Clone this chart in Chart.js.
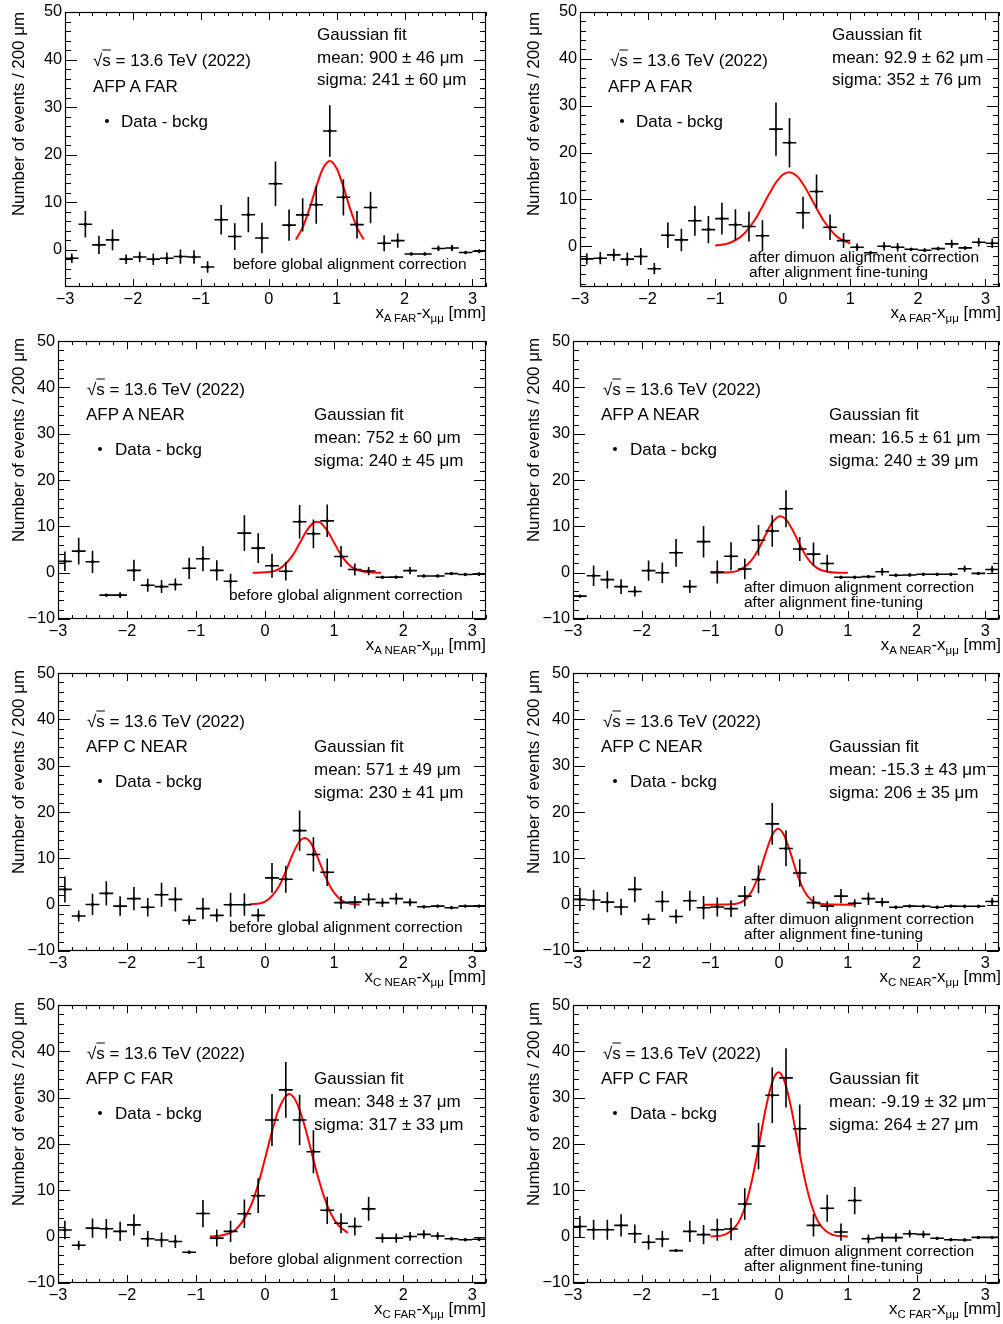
<!DOCTYPE html>
<html>
<head>
<meta charset="utf-8">
<script src="https://cdn.jsdelivr.net/npm/chart.js@4.4.0/dist/chart.umd.min.js"></script>
<style>
body { margin: 0; background: #fff; width: 1003px; height: 1324px; position: relative; overflow: hidden;
       font-family: "Liberation Sans", Arial, Helvetica, sans-serif; color: #000; }
canvas { position: absolute; }
.t { position: absolute; white-space: nowrap; font-size: 17px; line-height: 1; transform: translateY(-50%); }
.n { font-size: 15.5px; }
.dot { position: absolute; width: 4px; height: 4px; margin: -2px 0 0 -2px; border-radius: 50%; background: #000; }
.yt { position: absolute; width: 300px; text-align: right; font-size: 16.9px; line-height: 1; white-space: nowrap;
      transform-origin: 0 0; transform: rotate(-90deg); }
.xt { position: absolute; font-size: 16.9px; line-height: 1; white-space: nowrap; text-align: right; }
.xt sub { font-size: 11.5px; vertical-align: -4px; }
.ov { text-decoration: overline; }
</style>
</head>
<body>
<script>
// Centres des bins (largeur 200 µm)
const binX = [-2.9, -2.7, -2.5, -2.3, -2.1, -1.9, -1.7, -1.5, -1.3, -1.1, -0.9, -0.7, -0.5, -0.3, -0.1,
              0.1, 0.3, 0.5, 0.7, 0.9, 1.1, 1.3, 1.5, 1.7, 1.9, 2.1, 2.3, 2.5, 2.7, 2.9, 3.1];
const binHalf = 0.1;
const xTicks = [-3, -2, -1, 0, 1, 2, 3];
const yTicksTop = [0, 10, 20, 30, 40, 50];
const yTicks = [-10, 0, 10, 20, 30, 40, 50];

// AFP A FAR
const aFarBeforeY   = [-1.75, 5.4, 1.05, 2.1, -1.95, -1.5, -1.95, -1.75, -1.4, -1.5, -3.6, 6.35, 2.8, 7.4, 2.5, 13.9, 5.2, 7.35, 9.5, 25.0, 11.05, 5.3, 8.9, 1.4, 1.95, -0.85, -0.85, 0.3, 0.4, -0.55, -0.3];
const aFarBeforeErr = [1.0, 2.8, 1.9, 2.2, 1.0, 1.1, 1.2, 1.2, 1.5, 1.4, 1.2, 3.1, 2.8, 3.7, 3.2, 4.7, 3.3, 3.5, 4.0, 5.4, 3.8, 2.9, 3.3, 1.7, 1.5, 0.3, 0.3, 0.6, 0.7, 0.3, 0.4];
const aFarBeforeFitX = [0.4, 0.5, 0.6, 0.7, 0.8, 0.9, 1.0, 1.1, 1.2, 1.3, 1.4];
const aFarBeforeFitY = [2.17, 4.72, 8.61, 13.25, 17.15, 18.7, 17.15, 13.25, 8.61, 4.72, 2.17];

const aFarAfterY   = [-2.7, -2.55, -1.85, -2.75, -2.2, -4.8, 2.35, 1.35, 5.45, 3.55, 5.9, 4.6, 4.2, 2.25, 25.0, 22.1, 7.15, 11.7, 4.05, 1.2, -0.2, -1.4, 0.0, -0.2, -0.65, -0.85, -0.5, 0.5, -0.35, 0.85, 0.65];
const aFarAfterErr = [1.2, 1.3, 1.3, 1.4, 1.8, 1.2, 2.7, 2.4, 3.2, 2.9, 3.4, 3.3, 3.2, 3.3, 5.7, 5.3, 3.4, 3.6, 2.7, 1.6, 0.8, 0.3, 0.9, 0.9, 0.3, 0.4, 0.4, 0.9, 0.4, 0.9, 1.0];
const aFarAfterFitX = [-1.0, -0.8, -0.6, -0.4, -0.2, -0.1, 0.0, 0.093, 0.2, 0.3, 0.4, 0.6, 0.8, 1.0];
const aFarAfterFitY = [0.13, 0.63, 2.27, 5.92, 11.18, 13.6, 15.26, 15.8, 15.09, 13.29, 10.8, 5.6, 2.1, 0.57];

// AFP A NEAR
const aNearBeforeY   = [2.45, 4.65, 2.35, -4.85, -4.85, 0.5, -2.7, -3.0, -2.55, 0.95, 3.0, 0.5, -1.85, 8.55, 5.3, 1.5, 0.3, 11.0, 8.4, 11.2, 3.5, 0.7, 0.35, -1.0, -0.95, 0.45, -0.7, -0.7, -0.2, -0.4, -0.3];
const aNearBeforeErr = [2.1, 2.9, 2.4, 0.3, 0.6, 2.3, 1.4, 1.4, 1.3, 2.3, 2.7, 2.2, 1.6, 3.85, 3.2, 2.6, 2.0, 3.6, 3.1, 3.5, 2.25, 1.3, 0.9, 0.3, 0.3, 0.8, 0.3, 0.3, 0.3, 0.3, 0.4];
const aNearBeforeFitX = [-0.18, 0.0, 0.2, 0.4, 0.5, 0.6, 0.7, 0.752, 0.8, 0.9, 1.0, 1.1, 1.2, 1.3, 1.5, 1.68];
const aNearBeforeFitY = [0.0, 0.08, 0.78, 3.75, 6.34, 9.0, 10.75, 11.0, 10.78, 9.1, 6.45, 3.85, 1.93, 0.81, 0.09, 0.0];

const aNearAfterY   = [-5.05, -0.65, -1.5, -3.0, -4.05, 0.45, 0.0, 4.3, -3.0, 6.7, 0.15, 3.55, 0.8, 7.0, 9.0, 13.8, 5.1, 4.0, 2.0, -1.0, -1.0, -0.85, 0.2, -0.55, -0.5, -0.35, -0.35, -0.35, 0.85, -0.15, 0.7];
const aNearAfterErr = [0.3, 2.2, 1.9, 1.6, 1.1, 2.2, 2.2, 3.0, 1.4, 3.4, 2.5, 3.0, 2.2, 3.3, 3.4, 4.0, 2.6, 2.5, 1.9, 0.3, 0.3, 0.3, 0.8, 0.3, 0.3, 0.3, 0.3, 0.3, 0.7, 0.3, 0.8];
const aNearAfterFitX = [-1.0, -0.8, -0.6, -0.4, -0.3, -0.2, -0.1, 0.0165, 0.1, 0.2, 0.3, 0.4, 0.5, 0.6, 0.8, 1.0];
const aNearAfterFitY = [0.0, 0.05, 0.45, 2.7, 5.1, 8.1, 10.85, 12.2, 11.5, 9.1, 6.07, 3.4, 1.6, 0.64, 0.06, 0.0];

// AFP C NEAR
const cNearBeforeY   = [3.3, -2.45, 0.05, 2.45, -0.3, 1.3, -0.55, 2.15, 1.15, -3.35, -0.85, -2.3, 0.0, 0.0, -2.3, 5.8, 5.5, 16.0, 10.85, 7.0, 0.45, 0.55, 1.15, 0.45, 1.3, 0.5, -0.45, -0.3, -0.65, -0.3, -0.3];
const cNearBeforeErr = [2.8, 1.2, 2.3, 2.6, 2.1, 2.5, 2.0, 2.6, 2.6, 1.0, 2.3, 1.4, 2.6, 2.4, 1.4, 3.2, 2.9, 4.35, 3.7, 2.95, 1.4, 1.35, 1.3, 0.95, 1.25, 0.85, 0.3, 0.3, 0.3, 0.3, 0.3];
const cNearBeforeFitX = [-0.23, 0.0, 0.2, 0.3, 0.4, 0.5, 0.571, 0.65, 0.75, 0.85, 0.95, 1.1, 1.25, 1.37];
const cNearBeforeFitY = [0.03, 0.66, 3.92, 7.2, 10.9, 13.7, 14.4, 13.6, 10.6, 6.9, 3.7, 1.02, 0.18, 0.03];

const cNearAfterY   = [1.15, 1.0, 0.55, -0.5, 3.3, -3.15, 0.7, -2.55, 0.85, -0.65, -0.5, -0.85, 1.85, 5.45, 17.45, 12.15, 6.85, 0.45, -0.3, 1.85, 0.3, 1.3, 0.55, -0.55, -0.3, -0.35, -0.55, -0.3, -0.35, -0.35, 0.7];
const cNearAfterErr = [2.5, 2.15, 2.2, 1.8, 2.75, 1.2, 2.25, 1.5, 2.15, 2.5, 2.05, 1.8, 2.2, 3.0, 4.5, 3.85, 2.95, 1.35, 1.05, 1.55, 0.9, 1.35, 0.95, 0.3, 0.3, 0.3, 0.3, 0.3, 0.3, 0.3, 0.8];
const cNearAfterFitX = [-1.1, -0.7, -0.5, -0.4, -0.3, -0.2, -0.1, -0.0153, 0.07, 0.17, 0.27, 0.37, 0.47, 0.67, 1.1];
const cNearAfterFitY = [0.0, 0.07, 1.03, 2.86, 6.3, 10.96, 15.06, 16.4, 15.06, 10.96, 6.3, 2.86, 1.03, 0.07, 0.0];

// AFP C FAR
const cFarBeforeY   = [1.45, -1.85, 1.85, 1.7, 1.15, 2.55, -0.45, -0.7, -1.05, -3.35, 5.0, -0.3, 1.15, 4.95, 8.85, 25.2, 31.7, 25.2, 18.35, 5.7, 2.9, 2.2, 6.0, -0.3, -0.3, 0.05, 0.5, 0.15, -0.45, -0.65, -0.55];
const cFarBeforeErr = [2.0, 1.0, 2.1, 2.1, 2.1, 2.3, 1.7, 1.6, 1.4, 0.3, 2.95, 1.8, 2.3, 3.1, 3.75, 5.6, 6.0, 5.45, 4.65, 2.95, 2.15, 1.95, 2.55, 1.0, 1.0, 0.95, 0.95, 0.8, 0.3, 0.3, 0.3];
const cFarBeforeFitX = [-0.8, -0.6, -0.4, -0.2, -0.1, 0.0, 0.1, 0.2, 0.348, 0.45, 0.55, 0.65, 0.75, 0.85, 0.95, 1.05, 1.2];
const cFarBeforeFitY = [0.04, 0.35, 1.9, 6.9, 11.3, 16.9, 22.7, 27.6, 30.8, 29.2, 25.1, 19.6, 13.8, 8.8, 5.07, 2.65, 0.83];

const cFarAfterY   = [2.2, 1.5, 1.5, 2.45, 0.65, -1.2, -0.5, -3.0, 1.15, 0.45, 1.5, 1.65, 7.05, 19.55, 30.55, 34.3, 23.3, 2.45, 6.15, 1.0, 7.8, -0.45, -0.2, -0.2, 0.65, 0.5, -0.35, -0.65, -0.7, -0.15, -0.15];
const cFarAfterErr = [2.25, 2.15, 2.15, 2.4, 2.0, 1.55, 1.8, 0.3, 2.3, 2.1, 2.4, 2.4, 3.4, 5.0, 6.0, 6.4, 5.25, 2.4, 2.9, 1.85, 2.95, 0.95, 0.95, 0.95, 0.8, 0.8, 0.3, 0.3, 0.3, 0.3, 0.3];
const cFarAfterFitX = [-1.0, -0.8, -0.6, -0.5, -0.4, -0.3, -0.2, -0.1, -0.009, 0.08, 0.18, 0.28, 0.38, 0.48, 0.58, 0.78, 1.0];
const cFarAfterFitY = [0.03, 0.4, 2.9, 6.3, 11.9, 19.3, 27.3, 33.4, 35.5, 33.5, 27.5, 19.5, 12.0, 6.4, 2.95, 0.4, 0.03];

const panels = [
    { col: 0, row: 0, station: 'A FAR',  after: false, mean: '900 ± 46',   sigma: '241 ± 60', y: aFarBeforeY,  err: aFarBeforeErr,  fx: aFarBeforeFitX,  fy: aFarBeforeFitY,  ymin: -7.8, yt: yTicksTop },
    { col: 1, row: 0, station: 'A FAR',  after: true,  mean: '92.9 ± 62',  sigma: '352 ± 76', y: aFarAfterY,   err: aFarAfterErr,   fx: aFarAfterFitX,   fy: aFarAfterFitY,   ymin: -8.7, yt: yTicksTop },
    { col: 0, row: 1, station: 'A NEAR', after: false, mean: '752 ± 60',   sigma: '240 ± 45', y: aNearBeforeY, err: aNearBeforeErr, fx: aNearBeforeFitX, fy: aNearBeforeFitY, ymin: -10, yt: yTicks },
    { col: 1, row: 1, station: 'A NEAR', after: true,  mean: '16.5 ± 61',  sigma: '240 ± 39', y: aNearAfterY,  err: aNearAfterErr,  fx: aNearAfterFitX,  fy: aNearAfterFitY,  ymin: -10, yt: yTicks },
    { col: 0, row: 2, station: 'C NEAR', after: false, mean: '571 ± 49',   sigma: '230 ± 41', y: cNearBeforeY, err: cNearBeforeErr, fx: cNearBeforeFitX, fy: cNearBeforeFitY, ymin: -10, yt: yTicks },
    { col: 1, row: 2, station: 'C NEAR', after: true,  mean: '-15.3 ± 43', sigma: '206 ± 35', y: cNearAfterY,  err: cNearAfterErr,  fx: cNearAfterFitX,  fy: cNearAfterFitY,  ymin: -10, yt: yTicks },
    { col: 0, row: 3, station: 'C FAR',  after: false, mean: '348 ± 37',   sigma: '317 ± 33', y: cFarBeforeY,  err: cFarBeforeErr,  fx: cFarBeforeFitX,  fy: cFarBeforeFitY,  ymin: -10, yt: yTicks },
    { col: 1, row: 3, station: 'C FAR',  after: true,  mean: '-9.19 ± 32', sigma: '264 ± 27', y: cFarAfterY,   err: cFarAfterErr,   fx: cFarAfterFitX,   fy: cFarAfterFitY,   ymin: -10, yt: yTicks }
];

// Géométrie des pads
const rowTop = [0, 330, 662, 994];
const rowH = [330, 332, 332, 330];
const plotTop = [12, 338, 670, 1002];
const plotBottom = [287, 619, 951, 1283];

function layoutOf(p) {
    const cx = p.col ? 500 : 0;
    const cw = p.col ? 503 : 500;
    let pl = p.col ? 573 : 58;
    if (p.row === 0) pl += 7;
    return { cx, cw, cy: rowTop[p.row], ch: rowH[p.row], pl, pr: p.col ? 1001 : 486, pt: plotTop[p.row], pb: plotBottom[p.row] };
}

const tickFont = { family: '"Liberation Sans", Arial, sans-serif', size: 16.3, lineHeight: 1 };
const minus = v => String(v).replace('-', '\u2212');

// Cadre + graduations façon ROOT (ticks intérieurs sur les 4 côtés)
const rootFrame = {
    id: 'rootFrame',
    afterDraw(chart) {
        const { ctx, chartArea: a, scales: { x, y } } = chart;
        ctx.save();
        ctx.strokeStyle = '#000';
        ctx.lineWidth = 1;
        ctx.beginPath();
        for (let k = -15; k <= 16; k++) {
            const v = k * 0.2;
            const px = Math.round(x.getPixelForValue(v)) + 0.5;
            const len = (k % 5 === 0) ? 8 : 4;
            ctx.moveTo(px, a.bottom); ctx.lineTo(px, a.bottom - len);
            ctx.moveTo(px, a.top); ctx.lineTo(px, a.top + len);
        }
        for (let v = Math.ceil(y.min / 2) * 2; v <= 50; v += 2) {
            const py = Math.round(y.getPixelForValue(v)) + 0.5;
            const len = (v % 10 === 0) ? 12 : 6;
            ctx.moveTo(a.left, py); ctx.lineTo(a.left + len, py);
            ctx.moveTo(a.right, py); ctx.lineTo(a.right - len, py);
        }
        ctx.stroke();
        ctx.lineWidth = 1.2;
        ctx.strokeRect(Math.round(a.left) + 0.5, Math.round(a.top) + 0.5, Math.round(a.right - a.left) - 1, Math.round(a.bottom - a.top) - 1);
        ctx.restore();
    }
};

// Barres d'erreur (largeur de bin en x, erreur statistique en y)
const errorBars = {
    id: 'errorBars',
    afterDatasetsDraw(chart) {
        const ds = chart.data.datasets[1];
        const { ctx, scales: { x, y } } = chart;
        ctx.save();
        ctx.strokeStyle = '#000';
        ctx.lineWidth = 1.6;
        ctx.beginPath();
        ds.data.forEach((pt, i) => {
            const px = x.getPixelForValue(pt.x);
            const py = y.getPixelForValue(pt.y);
            ctx.moveTo(x.getPixelForValue(pt.x - binHalf), py);
            ctx.lineTo(x.getPixelForValue(pt.x + binHalf), py);
            ctx.moveTo(px, y.getPixelForValue(pt.y - ds.errors[i]));
            ctx.lineTo(px, y.getPixelForValue(pt.y + ds.errors[i]));
        });
        ctx.stroke();
        ctx.restore();
    }
};

function makeChart(p) {
    const L = layoutOf(p);
    const cv = document.createElement('canvas');
    cv.width = L.cw;
    cv.height = L.ch;
    cv.style.left = L.cx + 'px';
    cv.style.top = L.cy + 'px';
    document.body.appendChild(cv);

    new Chart(cv, {
        type: 'scatter',
        data: {
            datasets: [{
                data: p.fx.map((x, i) => ({ x: x, y: p.fy[i] })),
                showLine: true,
                borderColor: '#ff0000',
                borderWidth: 2,
                pointRadius: 0,
                cubicInterpolationMode: 'monotone',
                fill: false
            }, {
                data: binX.map((x, i) => ({ x: x, y: p.y[i] })),
                errors: p.err,
                showLine: false,
                pointRadius: 1.7,
                pointBorderWidth: 0,
                pointBackgroundColor: '#000'
            }]
        },
        options: {
            responsive: false,
            animation: false,
            devicePixelRatio: 1,
            layout: { padding: { top: L.pt - L.cy, right: L.cx + L.cw - L.pr, left: 0, bottom: 0 } },
            plugins: { legend: { display: false }, tooltip: { enabled: false } },
            scales: {
                x: {
                    type: 'linear', min: -3, max: 3.2,
                    afterBuildTicks: s => { s.ticks = xTicks.map(v => ({ value: v })); },
                    afterFit: s => { s.height = L.cy + L.ch - L.pb; },
                    grid: { display: false, drawTicks: false },
                    border: { display: false },
                    ticks: { font: tickFont, color: '#000', padding: 4, maxRotation: 0, autoSkip: false, callback: v => minus(v) }
                },
                y: {
                    type: 'linear', min: p.ymin, max: 50,
                    afterBuildTicks: s => { s.ticks = p.yt.map(v => ({ value: v })); },
                    afterFit: s => { s.width = L.pl - L.cx; },
                    grid: { display: false, drawTicks: false },
                    border: { display: false },
                    ticks: { font: tickFont, color: '#000', padding: 3, autoSkip: false, callback: v => minus(v) }
                }
            }
        },
        plugins: [rootFrame, errorBars]
    });
}

function addText(html, x, y, cls) {
    const d = document.createElement('div');
    d.className = 't' + (cls ? ' ' + cls : '');
    d.style.left = x + 'px';
    d.style.top = y + 'px';
    d.innerHTML = html;
    document.body.appendChild(d);
}

function addLabels(p) {
    const L = layoutOf(p);
    let pos;
    if (p.row === 0) {
        pos = p.col
            ? { sq: [610, 60], afp: [608, 86], dot: [622, 121], data: [636, 121], g: [832, 34], m: [832, 57], s: [832, 79], note: [749, 257] }
            : { sq: [93, 60], afp: [93, 86], dot: [107, 121], data: [121, 121], g: [317, 34], m: [317, 57], s: [317, 79], note: [233, 264] };
    } else {
        const dy = (p.row - 1) * 332;
        pos = p.col
            ? { sq: [603, 389 + dy], afp: [601, 414 + dy], dot: [615, 449 + dy], data: [630, 449 + dy], g: [829, 414 + dy], m: [829, 437 + dy], s: [829, 460 + dy], note: [744, 587 + dy] }
            : { sq: [87, 389 + dy], afp: [86, 414 + dy], dot: [100, 449 + dy], data: [115, 449 + dy], g: [314, 414 + dy], m: [314, 437 + dy], s: [314, 460 + dy], note: [229, 595 + dy] };
    }
    addText('√<span class="ov">s</span> = 13.6 TeV (2022)', pos.sq[0], pos.sq[1]);
    addText('AFP ' + p.station, pos.afp[0], pos.afp[1]);
    addText('Data - bckg', pos.data[0], pos.data[1]);
    const dot = document.createElement('div');
    dot.className = 'dot';
    dot.style.left = pos.dot[0] + 'px';
    dot.style.top = pos.dot[1] + 'px';
    document.body.appendChild(dot);
    addText('Gaussian fit', pos.g[0], pos.g[1]);
    addText('mean: ' + p.mean + ' μm', pos.m[0], pos.m[1]);
    addText('sigma: ' + p.sigma + ' μm', pos.s[0], pos.s[1]);
    if (p.after) {
        addText('after dimuon alignment correction', pos.note[0], pos.note[1], 'n');
        addText('after alignment fine-tuning', pos.note[0], pos.note[1] + 15, 'n');
    } else {
        addText('before global alignment correction', pos.note[0], pos.note[1], 'n');
    }

    // titre axe y
    const yt = document.createElement('div');
    yt.className = 'yt';
    yt.textContent = 'Number of events / 200 μm';
    yt.style.left = (p.col ? 526 : 11) + 'px';
    yt.style.top = (L.pt + 300) + 'px';
    document.body.appendChild(yt);

    // titre axe x
    const xt = document.createElement('div');
    xt.className = 'xt';
    xt.innerHTML = 'x<sub>' + p.station + '</sub>-x<sub>μμ</sub> [mm]';
    xt.style.right = (1003 - L.pr) + 'px';
    xt.style.top = (L.pb + 32 - 14) + 'px';
    document.body.appendChild(xt);
}

panels.forEach(p => { makeChart(p); addLabels(p); });
</script>
</body>
</html>
